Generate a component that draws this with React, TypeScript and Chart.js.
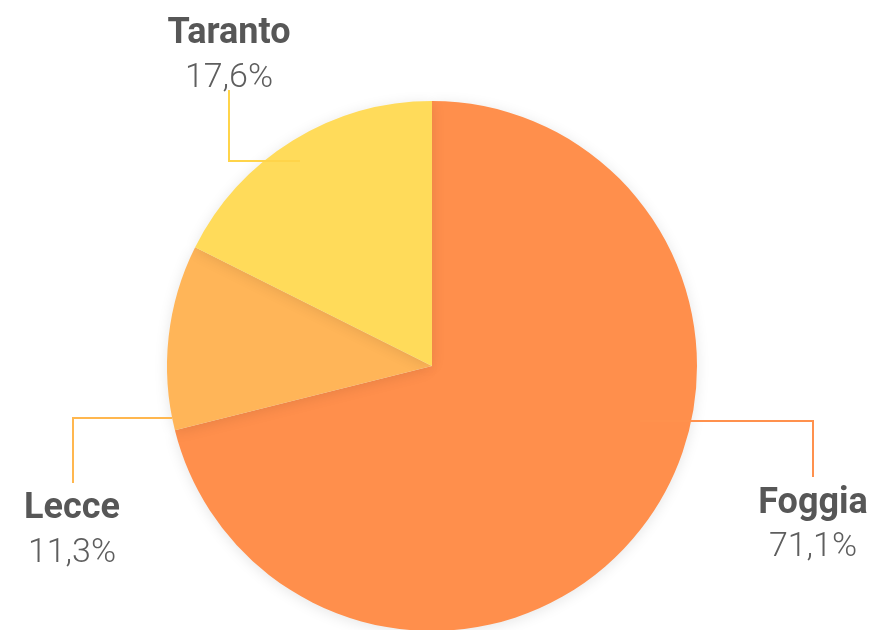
import React, { useEffect, useRef } from "react";
import { Chart, registerables } from "chart.js";

Chart.register(...registerables);

const categories = ["Foggia", "Lecce", "Taranto"];
const shares = [71.1, 11.3, 17.6];
const sliceColors = ["#FF8F4C", "#FFB558", "#FFDB5A"];
const lineColors = ["#FF914D", "#FFB74F", "#FFD44A"];

// callout layout: line path points [x,y] and text anchor (center x, name baseline, value baseline)
const calloutLayout = [
  { path: [[640, 421], [813, 421], [813, 477]], tx: 813, nameY: 513, valY: 556 },
  { path: [[172, 418], [73, 418], [73, 483]], tx: 72, nameY: 518, valY: 562 },
  { path: [[300, 161], [229, 161], [229, 90]], tx: 229, nameY: 43, valY: 87 },
];

const fmt = (v: number) => v.toFixed(1).replace(".", ",") + "%";

const shadowPlugin = {
  id: "pieShadow",
  beforeDatasetsDraw(chart: any) {
    const ctx = chart.ctx;
    ctx.save();
    ctx.shadowColor = "rgba(0,0,0,0.10)";
    ctx.shadowBlur = 14;
    ctx.shadowOffsetX = 0;
    ctx.shadowOffsetY = 2;
  },
  afterDatasetsDraw(chart: any) {
    chart.ctx.restore();
  },
};

const calloutPlugin = {
  id: "callouts",
  afterDraw(chart: any) {
    const ctx = chart.ctx;
    const ds = chart.data.datasets[0];
    ctx.save();
    chart.data.labels.forEach((label: string, i: number) => {
      const lay = calloutLayout[i];
      ctx.strokeStyle = lineColors[i];
      ctx.lineWidth = 2;
      ctx.beginPath();
      lay.path.forEach((p: number[], k: number) => {
        if (k === 0) ctx.moveTo(p[0], p[1]);
        else ctx.lineTo(p[0], p[1]);
      });
      ctx.stroke();
      ctx.textAlign = "center";
      ctx.textBaseline = "alphabetic";
      ctx.fillStyle = "#575757";
      ctx.font = "bold 36px Roboto, 'Noto Sans', sans-serif";
      ctx.fillText(label, lay.tx, lay.nameY);
      ctx.fillStyle = "#5e5e5e";
      ctx.font = "300 34px Roboto, 'Noto Sans', sans-serif";
      ctx.fillText(fmt(ds.data[i]), lay.tx, lay.valY);
    });
    ctx.restore();
  },
};

export default function App() {
  const ref = useRef<HTMLCanvasElement | null>(null);
  useEffect(() => {
    if (!ref.current) return;
    const chart = new Chart(ref.current, {
      type: "pie",
      data: {
        labels: categories,
        datasets: [
          {
            data: shares,
            backgroundColor: sliceColors,
            borderWidth: 0,
          },
        ],
      },
      options: {
        animation: false,
        responsive: false,
        maintainAspectRatio: false,
        layout: { padding: { top: 101, left: 0, right: 8, bottom: 0 } },
        plugins: {
          legend: { display: false },
          tooltip: { enabled: false },
        },
      },
      plugins: [shadowPlugin, calloutPlugin],
    });
    return () => chart.destroy();
  }, []);
  return (
    <div
      style={{
        position: "fixed",
        left: 0,
        top: 0,
        width: 872,
        height: 630,
        overflow: "hidden",
        background: "#ffffff",
      }}
    >
      <canvas ref={ref} width={872} height={631} style={{ display: "block" }} />
    </div>
  );
}
